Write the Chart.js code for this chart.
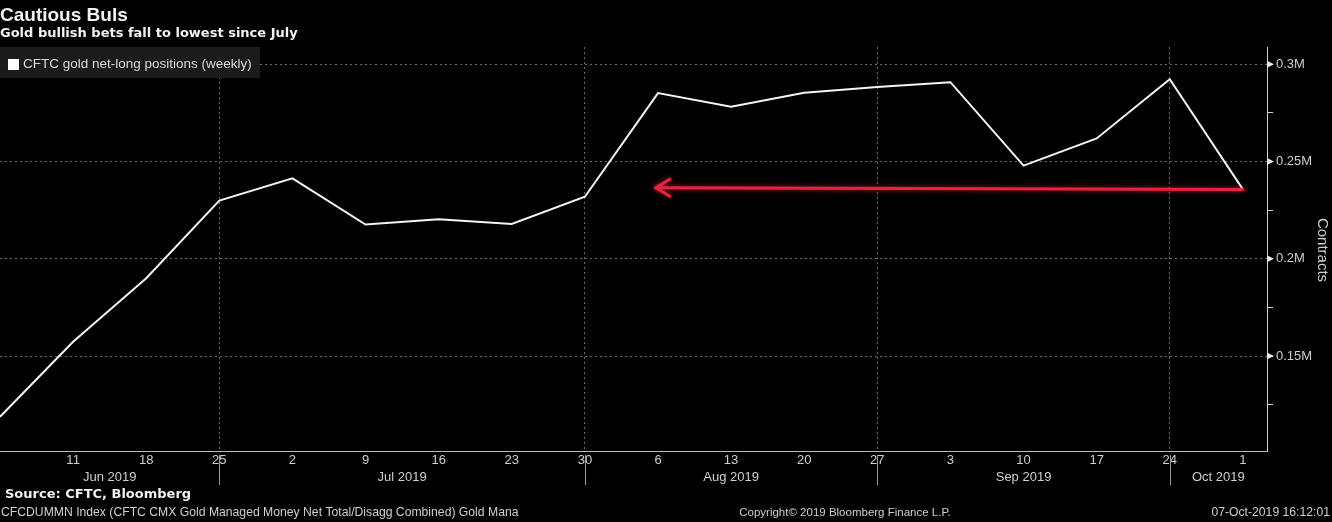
<!DOCTYPE html>
<html>
<head>
<meta charset="utf-8">
<script src="https://cdn.jsdelivr.net/npm/chart.js@4.4.1/dist/chart.umd.min.js"></script>
<style>
  html, body { margin: 0; padding: 0; background: #000; }
  #wrap { width: 1332px; height: 522px; position: relative; }
</style>
</head>
<body>
<div id="wrap"><canvas id="chart" width="1332" height="522"></canvas></div>
<script>
// Weekly CFTC report dates (Tuesdays), Jun 4 2019 .. Oct 1 2019
const weekDays = ['4', '11', '18', '25', '2', '9', '16', '23', '30', '6', '13', '20', '27', '3', '10', '17', '24', '1'];
const months = ['Jun 2019', 'Jul 2019', 'Aug 2019', 'Sep 2019', 'Oct 2019'];
// index of the last week of each month (where the month separator sits)
const monthEnds = [3, 8, 12, 16];

// net-long positions, contracts
const netLong = [118800, 157400, 190000, 229900, 241400, 217600, 220400, 217900, 231900,
                 285200, 278200, 285400, 288300, 290800, 247900, 261900, 292300, 235700];

const yTicks = [125000, 150000, 175000, 200000, 225000, 250000, 275000, 300000];
const yLabelled = [150000, 200000, 250000, 300000];

// red arrow annotation: from the latest reading back to early August
const arrowFrom = { x: 17, y: 235700 };
const arrowTo = { x: 8.97, y: 236500 };

const labelFont = "'Liberation Sans', Arial, sans-serif";
const textGray = '#cfcfcf';

const decorations = {
    id: 'decorations',
    beforeDraw(chart) {
        const ctx = chart.ctx;
        ctx.save();
        ctx.fillStyle = '#000';
        ctx.fillRect(0, 0, chart.width, chart.height);
        ctx.restore();
    },
    afterDraw(chart) {
        const ctx = chart.ctx;
        const xs = chart.scales.x;
        const ys = chart.scales.y;
        const area = chart.chartArea;
        ctx.save();

        // title + subtitle
        ctx.fillStyle = '#f2f2f2';
        ctx.textBaseline = 'alphabetic';
        ctx.textAlign = 'left';
        ctx.font = "bold 19px 'Liberation Sans', Arial, sans-serif";
        ctx.fillText('Cautious Buls', 0, 21);
        ctx.font = "bold 13px 'DejaVu Sans', Verdana, sans-serif";
        ctx.fillText('Gold bullish bets fall to lowest since July', 0, 37);

        // legend box
        ctx.fillStyle = 'rgba(28,28,28,0.95)';
        ctx.fillRect(0, 47, 260, 31);
        ctx.fillStyle = '#fff';
        ctx.fillRect(8, 59, 11, 11);
        ctx.fillStyle = '#d8d8d8';
        ctx.font = "13.5px 'Liberation Sans', Arial, sans-serif";
        ctx.textBaseline = 'middle';
        ctx.fillText('CFTC gold net-long positions (weekly)', 23, 64.5);

        // triangles on labelled y ticks
        ctx.fillStyle = '#e6e6e6';
        yLabelled.forEach(v => {
            const py = ys.getPixelForValue(v);
            ctx.beginPath();
            ctx.moveTo(area.right, py - 3.5);
            ctx.lineTo(area.right + 7, py);
            ctx.lineTo(area.right, py + 3.5);
            ctx.closePath();
            ctx.fill();
        });

        // axis title on the right
        ctx.save();
        ctx.translate(1322, 250);
        ctx.rotate(Math.PI / 2);
        ctx.textAlign = 'center';
        ctx.textBaseline = 'middle';
        ctx.fillStyle = textGray;
        ctx.font = "15px 'Liberation Sans', Arial, sans-serif";
        ctx.fillText('Contracts', 0, 0);
        ctx.restore();

        // month separators and month labels
        const bounds = [area.left].concat(monthEnds.map(i => xs.getPixelForValue(i)), [area.right]);
        ctx.strokeStyle = '#9a9a9a';
        ctx.lineWidth = 1;
        monthEnds.forEach(i => {
            const px = Math.round(xs.getPixelForValue(i)) + 0.5;
            ctx.beginPath();
            ctx.moveTo(px, area.bottom + 4);
            ctx.lineTo(px, area.bottom + 34);
            ctx.stroke();
        });
        ctx.fillStyle = textGray;
        ctx.font = '13px ' + labelFont;
        ctx.textAlign = 'center';
        ctx.textBaseline = 'middle';
        months.forEach((m, i) => {
            ctx.fillText(m, (bounds[i] + bounds[i + 1]) / 2, 477);
        });

        // footer
        ctx.textAlign = 'left';
        ctx.fillStyle = '#f0f0f0';
        ctx.font = "bold 13px 'DejaVu Sans', Verdana, sans-serif";
        ctx.fillText('Source: CFTC, Bloomberg', 5, 495);
        ctx.fillStyle = textGray;
        ctx.font = '12.2px ' + labelFont;
        ctx.fillText('CFCDUMMN Index (CFTC CMX Gold Managed Money Net Total/Disagg Combined) Gold Mana', 1, 513);
        ctx.textAlign = 'center';
        ctx.font = '11.5px ' + labelFont;
        ctx.fillText('Copyright\u00a9 2019 Bloomberg Finance L.P.', 845, 513);
        ctx.textAlign = 'right';
        ctx.font = '12.2px ' + labelFont;
        ctx.fillText('07-Oct-2019 16:12:01', 1330, 513);

        // red arrow with a soft glow
        const x1 = xs.getPixelForValue(arrowFrom.x), y1 = ys.getPixelForValue(arrowFrom.y);
        const x2 = xs.getPixelForValue(arrowTo.x), y2 = ys.getPixelForValue(arrowTo.y);
        ctx.strokeStyle = '#e8223f';
        ctx.lineWidth = 3;
        ctx.lineCap = 'round';
        ctx.lineJoin = 'round';
        ctx.shadowColor = 'rgba(255,40,70,0.7)';
        ctx.shadowBlur = 5;
        ctx.beginPath();
        ctx.moveTo(x1, y1);
        ctx.lineTo(x2, y2);
        ctx.stroke();
        ctx.beginPath();
        ctx.moveTo(x2 + 14, y2 - 8.5);
        ctx.lineTo(x2, y2);
        ctx.lineTo(x2 + 14, y2 + 8.5);
        ctx.stroke();

        ctx.restore();
    }
};

new Chart(document.getElementById('chart'), {
    type: 'line',
    data: {
        datasets: [{
            label: 'CFTC gold net-long positions (weekly)',
            data: netLong.map((v, i) => ({ x: i, y: v })),
            borderColor: '#f4f4f4',
            borderWidth: 2,
            pointRadius: 0,
            tension: 0,
            fill: false
        }]
    },
    options: {
        responsive: false,
        animation: false,
        layout: { padding: { left: 0, top: 47, right: 0, bottom: 0 } },
        plugins: {
            legend: { display: false },
            tooltip: { enabled: false }
        },
        scales: {
            x: {
                type: 'linear',
                min: 0,
                max: 17.33,
                afterBuildTicks: scale => {
                    scale.ticks = weekDays.map((d, i) => ({ value: i })).slice(1);
                },
                afterFit: scale => { scale.height = 71; },
                ticks: {
                    autoSkip: false,
                    maxRotation: 0,
                    padding: 2,
                    color: textGray,
                    font: { family: labelFont, size: 13 },
                    callback: value => weekDays[value]
                },
                grid: {
                    drawTicks: false,
                    lineWidth: 1,
                    color: ctx => (ctx.tick && monthEnds.includes(ctx.tick.value)) ? '#6a6a6a' : 'rgba(0,0,0,0)'
                },
                border: { display: true, color: '#bdbdbd', width: 1, dash: [2, 3] }
            },
            y: {
                position: 'right',
                min: 101200,
                max: 308900,
                afterBuildTicks: scale => {
                    scale.ticks = yTicks.map(v => ({ value: v }));
                },
                afterFit: scale => { scale.width = 65; },
                ticks: {
                    padding: 3,
                    color: textGray,
                    font: { family: labelFont, size: 13 },
                    callback: value => yLabelled.includes(value) ? (value / 1e6) + 'M' : ''
                },
                grid: {
                    drawTicks: true,
                    tickLength: 6,
                    tickColor: '#cfcfcf',
                    lineWidth: 1,
                    color: ctx => (ctx.tick && yLabelled.includes(ctx.tick.value)) ? '#6a6a6a' : 'rgba(0,0,0,0)'
                },
                border: { display: true, color: '#d0d0d0', width: 1, dash: [2, 3] }
            }
        }
    },
    plugins: [decorations]
});
</script>
</body>
</html>
